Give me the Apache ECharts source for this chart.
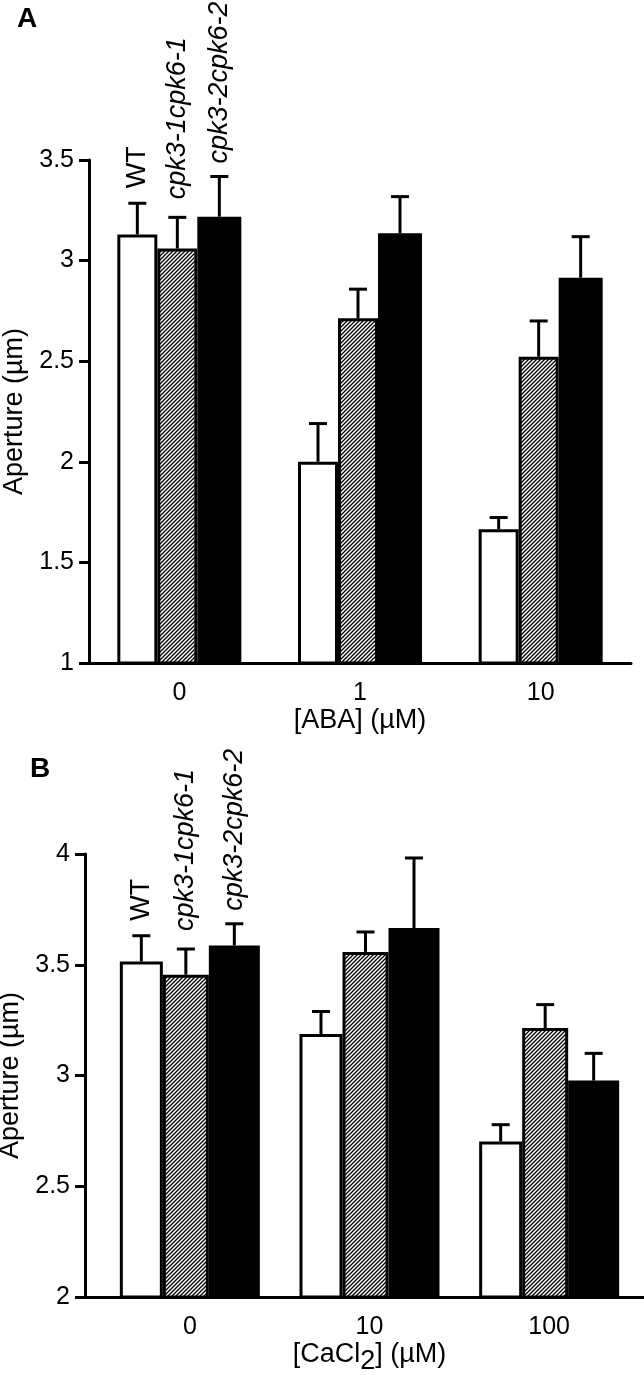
<!DOCTYPE html>
<html>
<head>
<meta charset="utf-8">
<script src="https://cdn.jsdelivr.net/npm/echarts@6/dist/echarts.min.js"></script>
<style>
html,body{margin:0;padding:0;background:#fff;}
#chart{width:644px;height:1375px;}
</style>
</head>
<body>
<div id="chart"></div>
<script>
// ---------- data ----------
const genotypes = ['WT', 'cpk3-1cpk6-1', 'cpk3-2cpk6-2'];

const abaDoses = ['0', '1', '10'];
const wtA = [3.13, 2.00, 1.665];
const wtErrA = [0.155, 0.19, 0.058];
const k1A = [3.06, 2.713, 2.522];
const k1ErrA = [0.155, 0.145, 0.178];
const k2A = [3.218, 3.136, 2.915];
const k2ErrA = [0.2, 0.182, 0.204];
const yTicksA = [1, 1.5, 2, 2.5, 3, 3.5];

const caDoses = ['0', '10', '100'];
const wtB = [3.515, 3.187, 2.702];
const wtErrB = [0.116, 0.102, 0.076];
const k1B = [3.455, 3.558, 3.214];
const k1ErrB = [0.116, 0.09, 0.106];
const k2B = [3.587, 3.666, 2.977];
const k2ErrB = [0.098, 0.316, 0.123];
const yTicksB = [2, 2.5, 3, 3.5, 4];

// ---------- styles ----------
const FONT = '"Liberation Sans", Arial, Helvetica, sans-serif';
const widthsA = [40, 40, 44];
const widthsB = [43, 46, 51];
const labelGap = [15, 18, 13];

function hatchCanvas() {
  const c = document.createElement('canvas');
  c.width = 4; c.height = 4;
  const ctx = c.getContext('2d');
  ctx.fillStyle = '#fff';
  ctx.fillRect(0, 0, 4, 4);
  ctx.strokeStyle = '#000';
  ctx.lineWidth = 1.3;
  ctx.beginPath();
  ctx.moveTo(-1, 5); ctx.lineTo(5, -1);
  ctx.moveTo(-1, 1); ctx.lineTo(1, -1);
  ctx.moveTo(3, 5); ctx.lineTo(5, 3);
  ctx.stroke();
  return c;
}
const hatch = { image: hatchCanvas(), repeat: 'repeat' };
const fills = ['#ffffff', hatch, '#000000'];

function barSeries(values, s, widths, xi, yi) {
  return {
    type: 'bar', xAxisIndex: xi, yAxisIndex: yi,
    name: genotypes[s],
    data: values,
    barWidth: widths[s],
    barGap: '0%',
    itemStyle: { color: fills[s], borderColor: '#000', borderWidth: 3 },
    silent: true, animation: false
  };
}

function errSeries(values, errs, s, widths, xi, yi) {
  return {
    type: 'custom', xAxisIndex: xi, yAxisIndex: yi,
    data: values.map((v, i) => [i, v, errs[i]]),
    encode: { x: 0, y: 1 },
    silent: true, animation: false, z: 5,
    renderItem: function (params, api) {
      const ci = api.value(0), v = api.value(1), e = api.value(2);
      const base = api.coord([ci, v]);
      const top = api.coord([ci, v + e]);
      const total = widths.reduce((a, b) => a + b, 0);
      let off = -total / 2;
      for (let i = 0; i < s; i++) off += widths[i];
      off += widths[s] / 2;
      const x = base[0] + off;
      const children = [
        { type: 'line', shape: { x1: x, y1: base[1], x2: x, y2: top[1] }, style: { stroke: '#000', lineWidth: 3 } },
        { type: 'line', shape: { x1: x - 9, y1: top[1], x2: x + 9, y2: top[1] }, style: { stroke: '#000', lineWidth: 3 } }
      ];
      if (ci === 0) {
        children.push({
          type: 'text', x: x, y: top[1] - labelGap[s], rotation: Math.PI / 2,
          style: {
            text: genotypes[s], fill: '#000', font: (s === 0 ? '' : 'italic ') + '27px ' + FONT,
            align: 'left', verticalAlign: 'middle'
          }
        });
      }
      return { type: 'group', children: children };
    }
  };
}

const tickLabel = { color: '#000', fontSize: 25, fontFamily: FONT };
const axisLineStyle = { show: true, lineStyle: { color: '#000', width: 3 } };

const option = {
  animation: false,
  backgroundColor: '#fff',
  title: [
    { text: 'A', left: 12, top: 0, textStyle: { fontSize: 28, fontWeight: 'bold', color: '#000', fontFamily: FONT } },
    { text: 'B', left: 25, top: 750, textStyle: { fontSize: 28, fontWeight: 'bold', color: '#000', fontFamily: FONT } }
  ],
  grid: [
    { left: 89, top: 160, width: 542, height: 503, outerBoundsMode: 'none', containLabel: false },
    { left: 100, top: 854, width: 539, height: 443, outerBoundsMode: 'none', containLabel: false },
    { left: 85, top: 854, width: 559, height: 443, outerBoundsMode: 'none', containLabel: false }
  ],
  xAxis: [
    {
      type: 'category', gridIndex: 0, data: abaDoses,
      axisLine: axisLineStyle, axisTick: { show: false },
      axisLabel: Object.assign({ margin: 18 }, tickLabel),
      name: '[ABA] (µM)', nameLocation: 'middle', nameGap: 44,
      nameTextStyle: { color: '#000', fontSize: 27, fontFamily: FONT }
    },
    {
      type: 'category', gridIndex: 1, data: caDoses,
      axisLine: { show: false }, axisTick: { show: false },
      axisLabel: Object.assign({ margin: 18 }, tickLabel),
      name: '[CaCl{sub|2}] (µM)', nameLocation: 'middle', nameGap: 36,
      nameTextStyle: {
        color: '#000', fontSize: 27, fontFamily: FONT,
        rich: { sub: { fontSize: 27, fontFamily: FONT, color: '#000', verticalAlign: 'bottom', padding: [14, 0, 0, 0] } }
      }
    },
    {
      type: 'value', gridIndex: 2, min: 0, max: 1,
      axisLine: axisLineStyle, axisTick: { show: false },
      axisLabel: { show: false }, splitLine: { show: false }
    }
  ],
  yAxis: [
    {
      type: 'value', gridIndex: 0, min: yTicksA[0], max: yTicksA[yTicksA.length - 1], interval: 0.5,
      axisLine: axisLineStyle,
      axisTick: { show: true, length: 10, lineStyle: { color: '#000', width: 3 } },
      axisLabel: Object.assign({ margin: 15 }, tickLabel),
      splitLine: { show: false },
      name: 'Aperture (µm)', nameLocation: 'middle', nameGap: 58, nameRotate: 90,
      nameTextStyle: { color: '#000', fontSize: 27, fontFamily: FONT }
    },
    {
      type: 'value', gridIndex: 1, min: yTicksB[0], max: yTicksB[yTicksB.length - 1], interval: 0.5,
      offset: 15,
      axisLine: axisLineStyle,
      axisTick: { show: true, length: 10, lineStyle: { color: '#000', width: 3 } },
      axisLabel: Object.assign({ margin: 15 }, tickLabel),
      splitLine: { show: false },
      name: 'Aperture (µm)', nameLocation: 'middle', nameGap: 54, nameRotate: 90,
      nameTextStyle: { color: '#000', fontSize: 27, fontFamily: FONT }
    },
    { type: 'value', gridIndex: 2, min: 0, max: 1, show: false }
  ],
  series: [
    barSeries(wtA, 0, widthsA, 0, 0),
    barSeries(k1A, 1, widthsA, 0, 0),
    barSeries(k2A, 2, widthsA, 0, 0),
    errSeries(wtA, wtErrA, 0, widthsA, 0, 0),
    errSeries(k1A, k1ErrA, 1, widthsA, 0, 0),
    errSeries(k2A, k2ErrA, 2, widthsA, 0, 0),
    barSeries(wtB, 0, widthsB, 1, 1),
    barSeries(k1B, 1, widthsB, 1, 1),
    barSeries(k2B, 2, widthsB, 1, 1),
    errSeries(wtB, wtErrB, 0, widthsB, 1, 1),
    errSeries(k1B, k1ErrB, 1, widthsB, 1, 1),
    errSeries(k2B, k2ErrB, 2, widthsB, 1, 1)
  ]
};

const chart = echarts.init(document.getElementById('chart'), null, { renderer: 'canvas' });
chart.setOption(option);
</script>
</body>
</html>
